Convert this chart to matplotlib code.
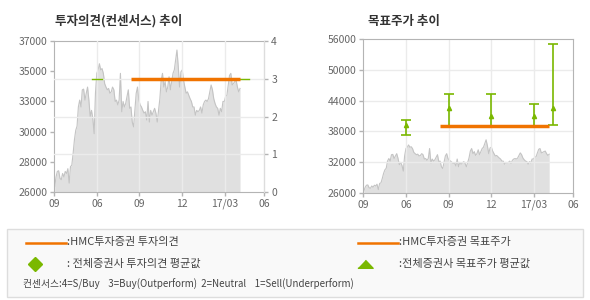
import matplotlib.pyplot as plt
from matplotlib.patches import Rectangle
from matplotlib.lines import Line2D

plt.rcParams['font.family'] = ['Noto Sans CJK KR', 'DejaVu Sans']

# x positions are in tick units (0 = first tick "09")
x_ticks = [0, 1, 2, 3, 4, 4.93]
x_labels = ['09', '06', '09', '12', '17/03', '06']

# daily close (read from the gray area)
price = [26400, 27100, 27500, 27550, 27000, 26900, 27350, 27100, 27500, 27350,
         27700, 26650, 27850, 27950, 28800, 29800, 30500, 30800, 32200, 32700,
         32200, 33450, 33500, 32700, 33200, 33650, 32700, 31500, 31950, 31350,
         30250, 33200, 34650, 34900, 35350, 34900, 35000, 34650, 33900, 33650,
         33450, 33550, 33200, 33300, 33650, 33450, 32600, 32700, 32350, 32700,
         34650, 31850, 32600, 32200, 32450, 32950, 33450, 32100, 32200, 31100,
         30750, 31950, 33200, 33650, 32700, 32350, 32200, 31950, 31750, 31850,
         31250, 32600, 31100, 31950, 31600, 31850, 32100, 31750, 31100, 31950,
         32800, 34150, 34650, 33650, 34050, 33300, 33650, 34400, 33450, 34050,
         34650, 34900, 35600, 36350, 35150, 33650, 34750, 34900, 34150, 33650,
         33200, 33300, 33050, 32800, 32600, 32200, 32200, 31600, 31950, 31850,
         31950, 32200, 31750, 32350, 32600, 32700, 32600, 32800, 33300, 33800,
         33450, 32800, 32450, 32200, 32100, 31600, 32100, 31850, 32600, 32600,
         32950, 33050, 33800, 34500, 34650, 33800, 33900, 34050, 34150, 33650,
         33300, 33550]
price_x0, price_x1 = 0.01, 4.36

# HMC opinion / target
hmc_x = [1.80, 4.36]
hmc_opinion = [3, 3]
hmc_target = [39000, 39000]

# consensus
cons_x = [1.0, 2.0, 3.0, 4.0, 4.46]
cons_opinion = [3, 3, 3, 3, 3]
cons_mean = [39300, 42600, 41000, 40900, 42600]
cons_high = [40200, 45200, 45200, 43300, 55000]
cons_low = [37200, 39000, 39000, 39000, 39200]

left_yticks = [26000, 28200, 30400, 32600, 34800, 37000]
left_ylabels = ['26000', '28000', '30000', '33000', '35000', '37000']
right_yticks = [26000, 32000, 38000, 44000, 50000, 56000]

orange = '#f07300'
green = '#7ab800'
gridc = '#ebebeb'
n = len(price)
px = [price_x0 + (price_x1 - price_x0) * i / (n - 1) for i in range(n)]

fig = plt.figure(figsize=(5.9, 3.0), dpi=100)


def style(ax):
    ax.set_xlim(0, 4.93)
    ax.set_xticks(x_ticks)
    ax.set_xticklabels(x_labels)
    for s in ax.spines.values():
        s.set_color('#b4b4b4')
    ax.tick_params(colors='#b4b4b4', labelcolor='#666666', labelsize=7.5,
                   length=3, width=1, pad=2)


# ---- left: opinion chart
ax1 = fig.add_axes([0.092, 0.36, 0.356, 0.503])
style(ax1)
ax1.set_ylim(26000, 37000)
ax1.set_yticks(left_yticks)
ax1.set_yticklabels(left_ylabels)
ax1.fill_between(px, price, 26000, color='#e0e0e0', lw=0, zorder=1)
ax1.plot(px, price, color='#c4c4c4', lw=0.8, zorder=2)

ax1r = ax1.twinx()
ax1r.set_ylim(0, 4)
ax1r.set_yticks([0, 1, 2, 3, 4])
for s in ax1r.spines.values():
    s.set_visible(False)
ax1r.spines['right'].set_visible(True)
ax1r.spines['right'].set_color('#dddddd')
ax1r.tick_params(colors='#b4b4b4', labelcolor='#666666', labelsize=7.5,
                 length=3, width=1, pad=2)
for v in [1, 2, 3]:
    ax1r.axhline(v, color=gridc, lw=1, zorder=1)
for t in x_ticks[1:-1]:
    ax1r.axvline(t, color=gridc, lw=1, zorder=1)
for cx, cy in zip(cons_x, cons_opinion):
    ax1r.plot([cx - 0.11, cx + 0.11], [cy, cy], color=green, lw=1, zorder=3)
ax1r.plot(hmc_x, hmc_opinion, color=orange, lw=2.5, zorder=4,
          solid_capstyle='butt')

# ---- right: target price chart
ax2 = fig.add_axes([0.616, 0.357, 0.356, 0.513])
style(ax2)
ax2.set_ylim(26000, 56000)
ax2.set_yticks(right_yticks)
ax2.fill_between(px, price, 26000, color='#e0e0e0', lw=0, zorder=1)
ax2.plot(px, price, color='#c4c4c4', lw=0.8, zorder=1.5)
for v in right_yticks[1:-1]:
    ax2.axhline(v, color=gridc, lw=1, zorder=2)
for t in x_ticks[1:-1]:
    ax2.axvline(t, color=gridc, lw=1, zorder=2)
for cx, m, hi, lo in zip(cons_x, cons_mean, cons_high, cons_low):
    ax2.errorbar([cx], [m], yerr=[[m - lo], [hi - m]], fmt='^', color=green,
                 ms=3, lw=1.2, capsize=3.5, capthick=1.2, zorder=3)
ax2.plot(hmc_x, hmc_target, color=orange, lw=2.5, zorder=4,
         solid_capstyle='butt')

fig.text(0.093, 0.93, '투자의견(컨센서스) 추이', fontsize=9, fontweight='bold',
         color='#333333', ha='left', va='center')
fig.text(0.624, 0.93, '목표주가 추이', fontsize=9, fontweight='bold',
         color='#333333', ha='left', va='center')

# ---- legend box
fig.patches.append(Rectangle((7 / 590, 1 - 297 / 300), 576 / 590, 68 / 300,
                             transform=fig.transFigure, facecolor='#f9f9f9',
                             edgecolor='#dddddd', lw=1))


def fy(y):
    return 1 - y / 300


def fx(x):
    return x / 590


lc = '#444444'
fig.lines.append(Line2D([fx(26), fx(66)], [fy(242.5)] * 2, color=orange,
                        lw=1.8, transform=fig.transFigure))
fig.lines.append(Line2D([fx(358), fx(398)], [fy(242.5)] * 2, color=orange,
                        lw=1.8, transform=fig.transFigure))
fig.lines.append(Line2D([fx(35)], [fy(264)], marker='D', color=green, ms=7,
                        transform=fig.transFigure))
tri = [(-1, -0.5), (1, -0.5), (0, 0.55)]
fig.lines.append(Line2D([fx(365.5)], [fy(264)], marker=tri, color=green,
                        ms=11, transform=fig.transFigure))
fig.text(fx(67), fy(242.5), ':HMC투자증권 투자의견', fontsize=8, color=lc,
         va='center')
fig.text(fx(399), fy(242.5), ':HMC투자증권 목표주가', fontsize=8, color=lc,
         va='center')
fig.text(fx(67), fy(264), ': 전체증권사 투자의견 평균값', fontsize=8, color=lc,
         va='center')
fig.text(fx(399), fy(264), ':전체증권사 목표주가 평균값', fontsize=8, color=lc,
         va='center')
fig.text(fx(23), fy(284.5),
         '컨센서스:4=S/Buy    3=Buy(Outperform)  2=Neutral    1=Sell(Underperform)',
         fontsize=7, color=lc, va='center')

fig.savefig('out.png', dpi=100)
